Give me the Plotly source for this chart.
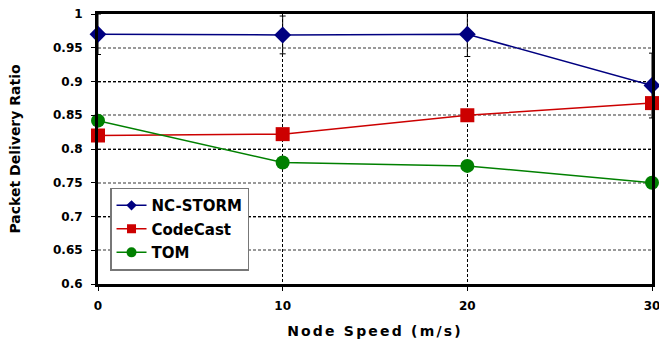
import plotly.graph_objects as go

speeds = [0, 10, 20, 30]
nc_storm = [0.970, 0.969, 0.970, 0.894]
nc_storm_err = [0.03, 0.028, 0.033, 0.048]
codecast = [0.820, 0.822, 0.850, 0.868]
tom = [0.842, 0.780, 0.775, 0.750]
y_ticks = [0.6, 0.65, 0.7, 0.75, 0.8, 0.85, 0.9, 0.95, 1.0]
y_tick_labels = ["0.6", "0.65", "0.7", "0.75", "0.8", "0.85", "0.9", "0.95", "1"]

FONT = "DejaVu Sans, Verdana, sans-serif"

series = [
    ("NC-STORM", nc_storm, "#000080", "diamond", 13, 8),
    ("CodeCast", codecast, "#CC0000", "square", 14, 9),
    ("TOM", tom, "#008000", "circle", 14, 10),
]

fig = go.Figure()
for i, (name, vals, color, sym, msize, lsize) in enumerate(series):
    kw = {}
    if name == "NC-STORM":
        kw["error_y"] = dict(type="data", array=nc_storm_err, color="black", thickness=1, width=3)
    fig.add_trace(go.Scatter(
        x=speeds, y=vals, name=name, mode="lines+markers",
        line=dict(color=color, width=1.5),
        marker=dict(symbol=sym, size=msize, color=color),
        cliponaxis=False, showlegend=False, **kw,
    ))
    # legend-only entry with smaller marker
    fig.add_trace(go.Scatter(
        x=[None], y=[None], name=name, mode="lines+markers",
        line=dict(color=color, width=1.5),
        marker=dict(symbol=sym, size=lsize, color=color),
        legendgroup=f"g{i}", showlegend=True,
    ))

# helper trace on the overlay axis so black grid lines draw
fig.add_trace(go.Scatter(x=[None], y=[None], yaxis="y2", showlegend=False, hoverinfo="skip"))

fig.update_layout(
    width=659, height=339,
    margin=dict(l=98, r=7, t=14, b=55, autoexpand=False),
    paper_bgcolor="white", plot_bgcolor="white",
    font=dict(family=FONT, size=12, color="black"),
    showlegend=True,
    legend=dict(
        x=0.0217, y=0.357, xanchor="left", yanchor="top",
        bgcolor="white", bordercolor="#777777", borderwidth=1.5,
        font=dict(family=FONT, size=15, color="black", weight="bold"),
        itemwidth=30, tracegroupgap=1,
    ),
    xaxis=dict(
        range=[0, 30], tickvals=speeds, ticktext=[str(s) for s in speeds],
        showgrid=True, gridcolor="black", gridwidth=1, griddash="3px,2px",
        showline=True, linecolor="black", linewidth=3, mirror=True,
        ticks="outside", ticklen=4, tickcolor="black", tickwidth=1,
        tickfont=dict(family=FONT, size=12, color="black", weight="bold"),
        ticklabelstandoff=5, ticklabeloverflow="allow",
        zeroline=False, automargin=False,
        title=dict(text='<span style="letter-spacing:2.2px">Node Speed (m/s)</span>',
                   font=dict(family=FONT, size=14, color="black", weight="bold"), standoff=17),
    ),
    yaxis=dict(
        range=[0.6, 1.0], tickvals=y_ticks, ticktext=y_tick_labels,
        showgrid=True, gridcolor="#999999", gridwidth=1.5, griddash="3px,2px",
        showline=True, linecolor="black", linewidth=3, mirror=True,
        ticks="outside", ticklen=4, tickcolor="black", tickwidth=1,
        tickfont=dict(family=FONT, size=12, color="black", weight="bold"),
        ticklabelstandoff=6, ticklabeloverflow="allow",
        zeroline=False, automargin=False,
        title=dict(text="Packet Delivery Ratio",
                   font=dict(family=FONT, size=14, color="black", weight="bold"), standoff=30),
    ),
    yaxis2=dict(
        range=[0.6, 1.0], overlaying="y", side="left",
        tickvals=[0.7, 0.8, 0.9], showticklabels=False,
        showgrid=True, gridcolor="black", gridwidth=1, griddash="3px,2px",
        showline=False, zeroline=False, ticks="",
    ),
)

fig.write_html("out.html", post_script="document.body.style.margin='0';",
               config={"displayModeBar": False})
